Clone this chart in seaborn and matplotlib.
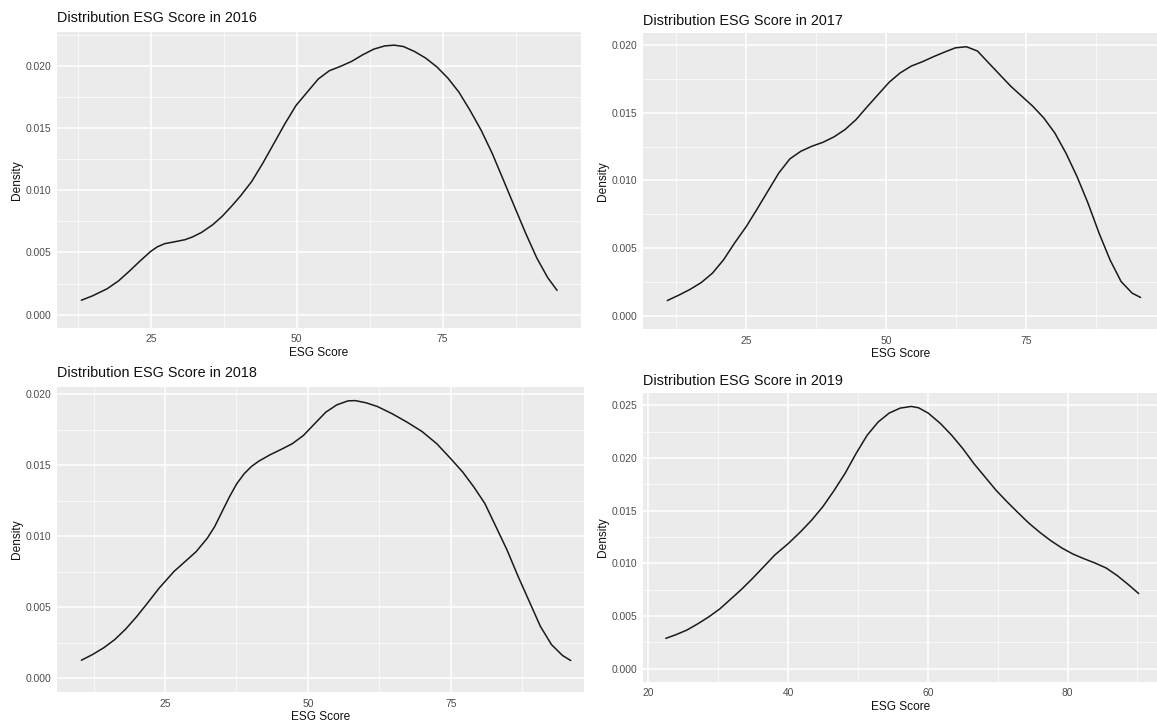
import matplotlib
matplotlib.use("Agg")
import matplotlib.pyplot as plt
from matplotlib.ticker import MultipleLocator, FormatStrFormatter
import seaborn as sns
import pandas as pd

# density curves, one pair of arrays per year
x_2016 = [13.07, 14.97, 17.51, 19.42, 21.32, 23.22, 25.0, 26.08, 27.35, 28.93, 30.84, 32.11,
          33.69, 35.60, 37.18, 38.77, 40.36, 42.26, 44.16, 46.07, 47.97, 49.87, 51.78, 53.68,
          55.58, 57.49, 59.39, 61.29, 63.20, 65.10, 66.69, 68.27, 70.18, 72.08, 73.98, 75.89,
          77.79, 79.70, 81.60, 83.50, 85.41, 87.31, 89.21, 91.12, 93.02, 94.61]
d_2016 = [0.00115, 0.00150, 0.00208, 0.00270, 0.00350, 0.00435, 0.00510, 0.00545, 0.00571,
          0.00585, 0.00603, 0.00625, 0.00662, 0.00724, 0.00790, 0.00870, 0.00956, 0.01071,
          0.01218, 0.01378, 0.01538, 0.01685, 0.01792, 0.01898, 0.01965, 0.02000, 0.02040,
          0.02093, 0.02139, 0.02165, 0.02171, 0.02160, 0.02120, 0.02067, 0.01997, 0.01906,
          0.01792, 0.01645, 0.01485, 0.01298, 0.01084, 0.00870, 0.00657, 0.00457, 0.00296,
          0.00195]

x_2017 = [10.86, 13.03, 15.0, 16.97, 18.95, 20.92, 22.89, 25.0, 26.84, 28.82, 30.79, 32.76,
          34.74, 36.71, 38.68, 40.66, 42.63, 44.61, 46.58, 48.55, 50.53, 52.50, 54.47, 56.45,
          58.42, 60.39, 62.37, 64.34, 66.32, 68.29, 70.26, 72.24, 74.21, 76.18, 78.16, 80.13,
          82.11, 84.08, 86.05, 88.03, 90.0, 91.97, 93.95, 95.46]
d_2017 = [0.00113, 0.00155, 0.00197, 0.00247, 0.00316, 0.00414, 0.00538, 0.00661, 0.00784,
          0.00920, 0.01055, 0.01159, 0.01216, 0.01253, 0.01282, 0.01322, 0.01376, 0.01450,
          0.01544, 0.01635, 0.01726, 0.01795, 0.01845, 0.01877, 0.01914, 0.01948, 0.01980,
          0.01988, 0.01956, 0.01869, 0.01783, 0.01697, 0.01623, 0.01549, 0.01462, 0.01351,
          0.01203, 0.01031, 0.00834, 0.00612, 0.00414, 0.00254, 0.00168, 0.00136]

x_2018 = [10.36, 12.31, 14.25, 16.19, 18.13, 20.08, 22.02, 23.96, 25.0, 26.55, 28.50, 30.44,
          32.38, 33.68, 34.97, 36.27, 37.56, 38.86, 40.16, 41.45, 43.39, 45.34, 47.28, 49.22,
          51.17, 53.11, 55.05, 57.0, 58.29, 60.23, 62.18, 64.77, 67.36, 69.95, 72.54, 75.0,
          77.07, 79.02, 80.96, 82.90, 84.84, 86.79, 88.73, 90.67, 92.62, 94.56, 95.98]
d_2018 = [0.00128, 0.00168, 0.00215, 0.00273, 0.00348, 0.00437, 0.00535, 0.00635, 0.00682,
          0.00752, 0.00822, 0.00892, 0.00986, 0.01068, 0.01173, 0.01278, 0.01371, 0.01441,
          0.01493, 0.01530, 0.01574, 0.01612, 0.01652, 0.01710, 0.01792, 0.01873, 0.01925,
          0.01953, 0.01955, 0.01939, 0.01913, 0.01862, 0.01803, 0.01738, 0.01652, 0.01546,
          0.01453, 0.01348, 0.01231, 0.01068, 0.00904, 0.00717, 0.00542, 0.00367, 0.00238,
          0.00161, 0.00126]

x_2019 = [22.48, 23.90, 25.48, 27.06, 28.64, 30.22, 31.80, 33.38, 34.96, 36.54, 38.12, 40.07,
          41.81, 43.39, 44.97, 46.55, 48.14, 49.72, 51.30, 52.88, 54.46, 56.04, 57.62, 58.67,
          60.04, 61.83, 63.41, 65.0, 66.58, 68.16, 69.74, 71.32, 72.90, 74.48, 76.06, 77.64,
          79.22, 80.80, 82.38, 83.96, 85.54, 87.12, 88.70, 90.18]
d_2019 = [0.00287, 0.00321, 0.00365, 0.00425, 0.00491, 0.00567, 0.00661, 0.00756, 0.00860,
          0.00970, 0.01080, 0.01190, 0.01301, 0.01411, 0.01537, 0.01688, 0.01852, 0.02041,
          0.02214, 0.02340, 0.02425, 0.02472, 0.02488, 0.02475, 0.02425, 0.02324, 0.02214,
          0.02088, 0.01946, 0.01820, 0.01694, 0.01584, 0.01480, 0.01379, 0.01291, 0.01212,
          0.01143, 0.01086, 0.01042, 0.01001, 0.00954, 0.00882, 0.00797, 0.00712]

years = ["2016", "2017", "2018", "2019"]
xs = [x_2016, x_2017, x_2018, x_2019]
ds = [d_2016, d_2017, d_2018, d_2019]
x_steps = [25, 25, 25, 20]

# visible x range of each panel (the right-hand ones are cropped in the source)
x_limits = [(8.95, 98.7), (6.57, 98.4), (6.14, 98.3), (19.26, 92.8)]

# panel boxes in figure fractions (left, bottom, width, height)
boxes = [
    [0.0495, 0.5476, 0.4526, 0.4087],
    [0.556, 0.5458, 0.444, 0.4083],
    [0.0495, 0.0451, 0.4552, 0.4215],
    [0.556, 0.0597, 0.444, 0.3978],
]
title_pads = [7, 6, 7, 6]

sns.set_theme(style="darkgrid", rc={"axes.facecolor": "#EBEBEB", "grid.color": "white"})
plt.rcParams['font.family'] = ['Liberation Sans', 'DejaVu Sans']

fig = plt.figure(figsize=(11.57, 7.25), dpi=100)

for i in range(4):
    ax = fig.add_axes(boxes[i])
    df = pd.DataFrame({'ESG Score': xs[i], 'Density': ds[i]})
    sns.lineplot(data=df, x='ESG Score', y='Density', ax=ax, color='#1a1a1a', linewidth=1.1)

    ax.set_xlim(*x_limits[i])
    y1 = max(ds[i])
    ax.set_ylim(-0.05 * y1, 1.05 * y1)

    ax.xaxis.set_major_locator(MultipleLocator(x_steps[i]))
    ax.xaxis.set_minor_locator(MultipleLocator(x_steps[i] / 2))
    ax.yaxis.set_major_locator(MultipleLocator(0.005))
    ax.yaxis.set_minor_locator(MultipleLocator(0.0025))
    ax.yaxis.set_major_formatter(FormatStrFormatter('%.3f'))

    ax.grid(which='major', color='white', linewidth=1.1)
    ax.grid(which='minor', color='white', linewidth=0.5)
    ax.tick_params(which='major', length=3, width=0.8, color='#333333',
                   labelcolor='#4D4D4D', labelsize=7.4, pad=1.5)
    ax.tick_params(which='minor', length=0)
    for s in ax.spines.values():
        s.set_visible(False)

    ax.set_title(f"Distribution ESG Score in {years[i]}", loc='left', fontsize=10.4,
                 color='#111111', pad=title_pads[i])
    ax.set_xlabel('ESG Score', fontsize=8.6, color='#111111', labelpad=2)
    ax.set_ylabel('Density', fontsize=8.6, color='#111111', labelpad=1.5)

fig.savefig('out.png', dpi=100)
